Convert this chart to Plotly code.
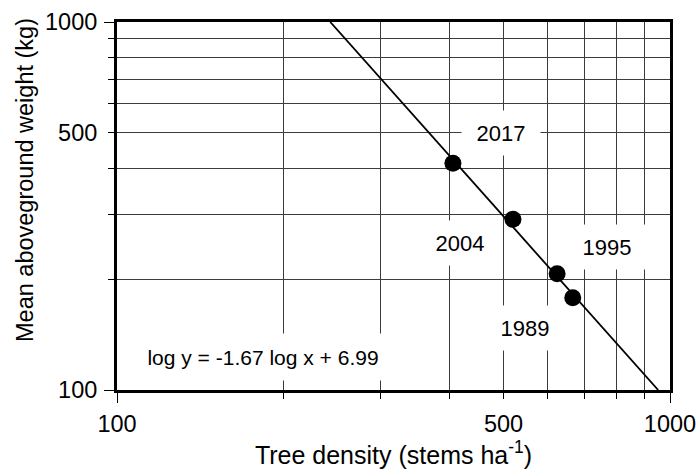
import math
import plotly.graph_objects as go

# ---- data ----
density = [405, 520, 625, 667]          # stems ha-1
weight = [413, 291, 207, 178]           # kg
years = ["2017", "2004", "1995", "1989"]
label_x = [495, 417, 769, 547]
label_y = [500, 251, 245, 147]
fit_x = [243, 952]
fit_y = [1000, 100]
equation = "log y = -1.67 log x + 6.99"
eq_x = 184
eq_y = 123
major_vals = [100, 500, 1000]
major_text = ["100", "500", "1000"]
long_tick_vals = [100, 1000]
minor_vals = [200, 300, 400, 600, 700, 800, 900]
x_title = "Tree density (stems ha<sup>-1</sup>)"
y_title = "Mean aboveground weight (kg)"

FONT = "Arial, Liberation Sans, sans-serif"
GRID = "#3c3c3c"

fig = go.Figure()

fig.add_trace(go.Scatter(
    x=fit_x, y=fit_y, mode="lines",
    line=dict(color="black", width=1.8),
    showlegend=False, hoverinfo="skip",
))
fig.add_trace(go.Scatter(
    x=density, y=weight, mode="markers",
    marker=dict(color="black", size=17),
    showlegend=False,
))
# invisible trace for the overlay axes carrying the long corner ticks
fig.add_trace(go.Scatter(
    x=[long_tick_vals[0]], y=[long_tick_vals[0]], mode="markers",
    marker=dict(opacity=0), xaxis="x2", yaxis="y2",
    showlegend=False, hoverinfo="skip",
))

common = dict(
    type="log", range=[2, 3], automargin=False,
    tickvals=major_vals, ticktext=major_text,
    ticks="outside", ticklen=6, tickwidth=1, tickcolor="black",
    showline=True, linewidth=3, linecolor="black", mirror=True,
    showgrid=True, gridcolor=GRID, gridwidth=1,
    tickfont=dict(family=FONT, size=23.5, color="black"),
    minor=dict(tickvals=minor_vals, ticks="outside", ticklen=6, tickwidth=1,
               tickcolor="black", showgrid=True, gridcolor=GRID, gridwidth=1),
    zeroline=False,
)

fig.update_layout(
    width=700, height=472,
    margin=dict(l=117, r=30, t=22, b=82, autoexpand=False),
    paper_bgcolor="white", plot_bgcolor="white",
    font=dict(family=FONT, color="black"),
    xaxis=dict(**common,
               title=dict(text=x_title, font=dict(family=FONT, size=25), standoff=4),
               ticklabelstandoff=5),
    yaxis=dict(**common, ticklabelstandoff=6),
    xaxis2=dict(type="log", range=[2, 3], overlaying="x", anchor="y", side="bottom",
                automargin=False,
                tickvals=long_tick_vals, ticks="outside", ticklen=12, tickwidth=1,
                tickcolor="black", showticklabels=False, showgrid=False,
                showline=False, zeroline=False),
    yaxis2=dict(type="log", range=[2, 3], overlaying="y", anchor="x", side="left",
                automargin=False,
                tickvals=long_tick_vals, ticks="outside", ticklen=12, tickwidth=1,
                tickcolor="black", showticklabels=False, showgrid=False,
                showline=False, zeroline=False),
)

# y-axis title (placed slightly above the plot centre as in the reference)
plot_l, plot_w, plot_b, plot_h = 117, 553, 390, 368
fig.add_annotation(
    x=(25 - plot_l) / plot_w, y=(plot_b - 180) / plot_h,
    xref="x domain", yref="y domain", xanchor="center", yanchor="middle",
    text=y_title, textangle=-90, showarrow=False,
    font=dict(family=FONT, size=23.5, color="black"),
)

for yr, lx, ly in zip(years, label_x, label_y):
    fig.add_annotation(
        x=math.log10(lx), y=math.log10(ly), xref="x", yref="y",
        text=yr, showarrow=False, bgcolor="white",
        width=76, height=42,
        font=dict(family=FONT, size=22, color="black"),
    )

fig.add_annotation(
    x=math.log10(eq_x), y=math.log10(eq_y), xref="x", yref="y",
    text=equation, showarrow=False, bgcolor="white",
    width=250, height=44,
    font=dict(family=FONT, size=21, color="black"),
)

fig.write_html("out.html")
